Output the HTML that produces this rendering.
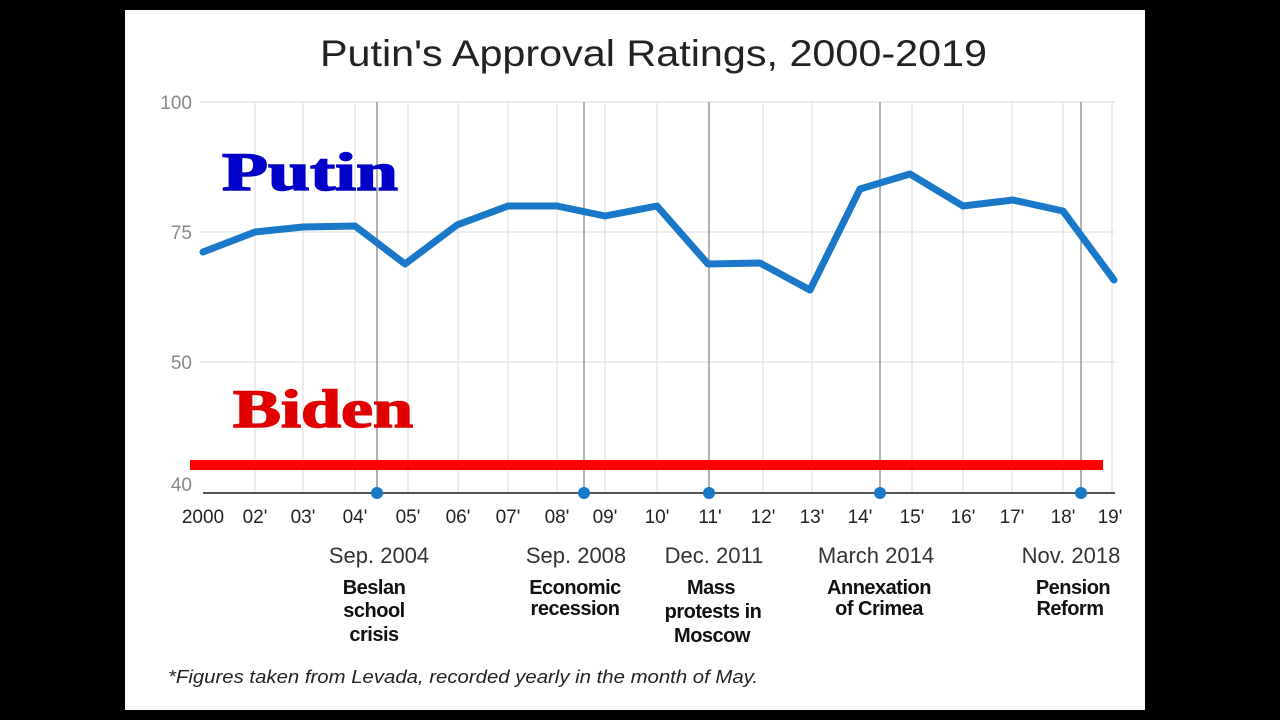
<!DOCTYPE html>
<html><head><style>
html,body{margin:0;padding:0;background:#000;width:1280px;height:720px;overflow:hidden}
svg{display:block}
</style></head><body>
<svg width="1280" height="720" viewBox="0 0 1280 720" xmlns="http://www.w3.org/2000/svg" font-family="'Liberation Sans',sans-serif">
<rect x="0" y="0" width="1280" height="720" fill="#000"/>
<rect x="125" y="10" width="1020" height="700" fill="#fff"/>
<text x="320" y="66" font-size="37" textLength="667" lengthAdjust="spacingAndGlyphs" fill="#222">Putin's Approval Ratings, 2000-2019</text>
<g stroke="#e6e6e6" stroke-width="1.5">
<line x1="200" y1="102" x2="1115" y2="102"/>
<line x1="200" y1="232" x2="1115" y2="232"/>
<line x1="200" y1="362" x2="1115" y2="362"/>
<line x1="255" y1="102" x2="255" y2="493"/><line x1="303" y1="102" x2="303" y2="493"/><line x1="355" y1="102" x2="355" y2="493"/>
<line x1="408" y1="102" x2="408" y2="493"/><line x1="458" y1="102" x2="458" y2="493"/><line x1="508" y1="102" x2="508" y2="493"/>
<line x1="557" y1="102" x2="557" y2="493"/><line x1="605" y1="102" x2="605" y2="493"/><line x1="657" y1="102" x2="657" y2="493"/>
<line x1="763" y1="102" x2="763" y2="493"/><line x1="812" y1="102" x2="812" y2="493"/>
<line x1="912" y1="102" x2="912" y2="493"/><line x1="963" y1="102" x2="963" y2="493"/><line x1="1012" y1="102" x2="1012" y2="493"/>
<line x1="1063" y1="102" x2="1063" y2="493"/><line x1="1112" y1="102" x2="1112" y2="493"/>
</g>
<g stroke="#999" stroke-width="1.5">
<line x1="377" y1="102" x2="377" y2="493"/><line x1="584" y1="102" x2="584" y2="493"/><line x1="709" y1="102" x2="709" y2="493"/>
<line x1="880" y1="102" x2="880" y2="493"/><line x1="1081" y1="102" x2="1081" y2="493"/>
</g>
<line x1="203" y1="493" x2="1115" y2="493" stroke="#555" stroke-width="2"/>
<g font-size="19" fill="#888" text-anchor="end">
<text x="192" y="109">100</text><text x="192" y="239">75</text><text x="192" y="369">50</text><text x="192" y="491">40</text>
</g>
<polyline fill="none" stroke="#1a78c8" stroke-width="7" stroke-linejoin="round" stroke-linecap="round" points="203,252 255,232 303,227 355,226 405,264 457,225 508,206 557,206 605,216 657,206 708,264 760,263 810,290 860,189 910,174 963,206 1013,200 1063,211 1114,280"/>
<rect x="190" y="460" width="913" height="10" fill="#f00"/>
<text x="222" y="190" font-family="'Liberation Serif',serif" font-weight="bold" font-size="54" textLength="176" lengthAdjust="spacingAndGlyphs" fill="#0000c8" stroke="#0000c8" stroke-width="1.5">Putin</text>
<text x="233" y="427" font-family="'Liberation Serif',serif" font-weight="bold" font-size="54" textLength="180" lengthAdjust="spacingAndGlyphs" fill="#e00000" stroke="#e00000" stroke-width="1.5">Biden</text>
<g fill="#1a78c8"><circle cx="377" cy="493" r="6"/><circle cx="584" cy="493" r="6"/><circle cx="709" cy="493" r="6"/><circle cx="880" cy="493" r="6"/><circle cx="1081" cy="493" r="6"/></g>
<g font-size="19" fill="#222" text-anchor="middle">
<text x="203" y="523">2000</text><text x="255" y="523">02'</text><text x="303" y="523">03'</text><text x="355" y="523">04'</text>
<text x="408" y="523">05'</text><text x="458" y="523">06'</text><text x="508" y="523">07'</text><text x="557" y="523">08'</text>
<text x="605" y="523">09'</text><text x="657" y="523">10'</text><text x="710" y="523">11'</text><text x="763" y="523">12'</text>
<text x="812" y="523">13'</text><text x="860" y="523">14'</text><text x="912" y="523">15'</text><text x="963" y="523">16'</text>
<text x="1012" y="523">17'</text><text x="1063" y="523">18'</text><text x="1110" y="523">19'</text>
</g>
<g font-size="22" fill="#333" text-anchor="middle">
<text x="379" y="563">Sep. 2004</text><text x="576" y="563">Sep. 2008</text><text x="714" y="563">Dec. 2011</text>
<text x="876" y="563">March 2014</text><text x="1071" y="563">Nov. 2018</text>
</g>
<g font-size="20" font-weight="bold" fill="#111" text-anchor="middle" letter-spacing="-0.5">
<text x="374" y="594">Beslan</text><text x="374" y="617">school</text><text x="374" y="641">crisis</text>
<text x="575" y="594">Economic</text><text x="575" y="615">recession</text>
<text x="711" y="594">Mass</text><text x="713" y="618">protests in</text><text x="712" y="642">Moscow</text>
<text x="879" y="594">Annexation</text><text x="879" y="615">of Crimea</text>
<text x="1073" y="594">Pension</text><text x="1070" y="615">Reform</text>
</g>
<text x="168" y="683" font-size="18" font-style="italic" fill="#222" textLength="590" lengthAdjust="spacingAndGlyphs">*Figures taken from Levada, recorded yearly in the month of May.</text>
</svg>
</body></html>
